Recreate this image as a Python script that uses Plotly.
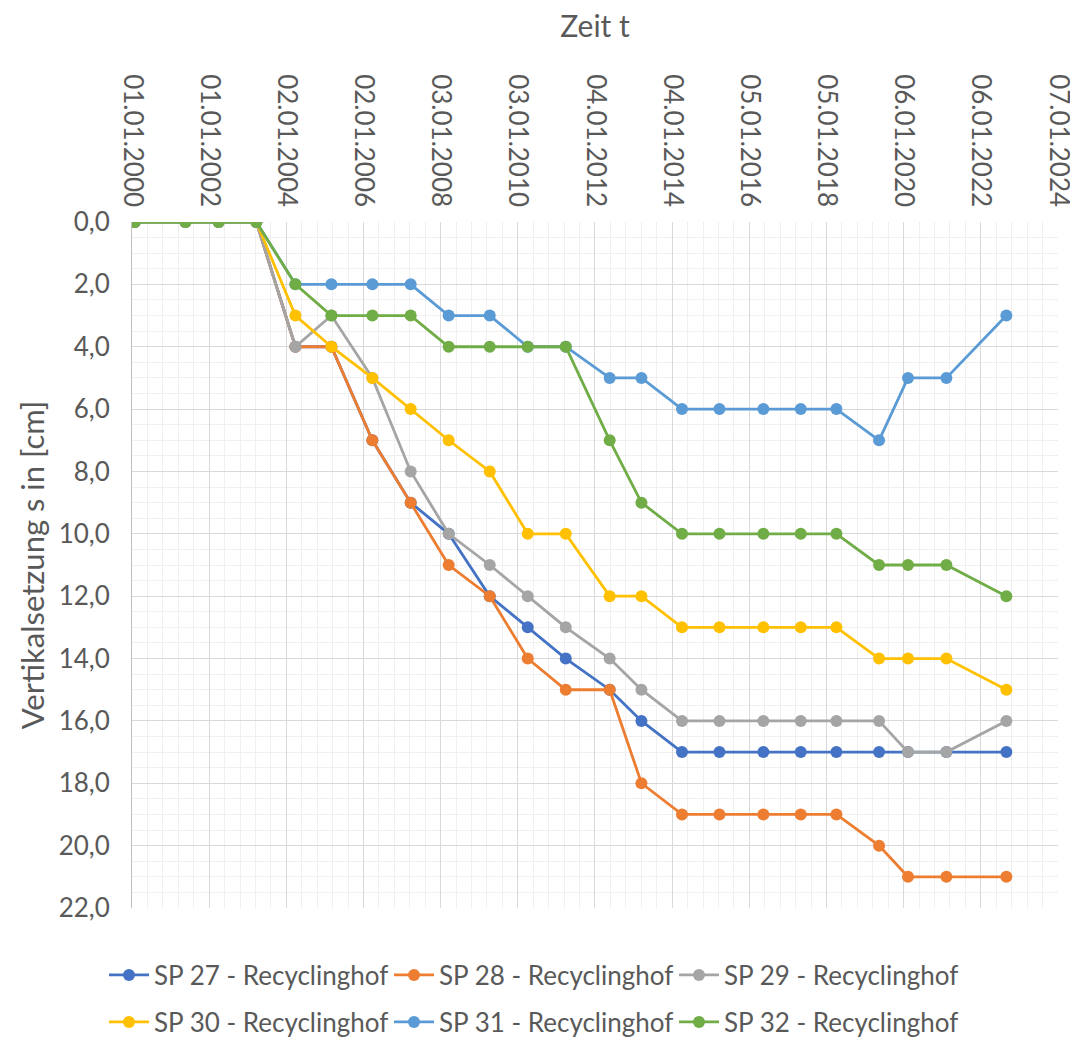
import plotly.graph_objects as go

dates = ["2000-01-27", "2001-05-21", "2002-04-01", "2003-03-24", "2004-03-28",
         "2005-03-04", "2006-03-27", "2007-03-25", "2008-03-19", "2009-04-12",
         "2010-04-07", "2011-04-02", "2012-05-22", "2013-03-19", "2014-04-07",
         "2015-03-28", "2016-05-17", "2017-05-06", "2018-04-09", "2019-05-18",
         "2020-02-16", "2021-02-14", "2022-09-05"]

sp27 = [0, 0, 0, 0, 4, 4, 7, 9, 10, 12, 13, 14, 15, 16, 17, 17, 17, 17, 17, 17, 17, 17, 17]
sp28 = [0, 0, 0, 0, 4, 4, 7, 9, 11, 12, 14, 15, 15, 18, 19, 19, 19, 19, 19, 20, 21, 21, 21]
sp29 = [0, 0, 0, 0, 4, 3, 5, 8, 10, 11, 12, 13, 14, 15, 16, 16, 16, 16, 16, 16, 17, 17, 16]
sp30 = [0, 0, 0, 0, 3, 4, 5, 6, 7, 8, 10, 10, 12, 12, 13, 13, 13, 13, 13, 14, 14, 14, 15]
sp31 = [0, 0, 0, 0, 2, 2, 2, 2, 3, 3, 4, 4, 5, 5, 6, 6, 6, 6, 6, 7, 5, 5, 3]
sp32 = [0, 0, 0, 0, 2, 3, 3, 3, 4, 4, 4, 4, 7, 9, 10, 10, 10, 10, 10, 11, 11, 11, 12]

names = ["SP 27 - Recyclinghof", "SP 28 - Recyclinghof", "SP 29 - Recyclinghof",
         "SP 30 - Recyclinghof", "SP 31 - Recyclinghof", "SP 32 - Recyclinghof"]
series = [sp27, sp28, sp29, sp30, sp31, sp32]
colors = ["#4472C4", "#ED7D31", "#A5A5A5", "#FFC000", "#5B9BD5", "#70AD47"]

DAY_MS = 86400000
major_dt = 731 * DAY_MS
minor_dt = major_dt / 5

fig = go.Figure()
for i, (nm, vals, col) in enumerate(zip(names, series, colors)):
    fig.add_trace(go.Scatter(
        x=dates, y=vals, name=nm, mode="lines+markers",
        line=dict(color=col, width=2.8),
        marker=dict(color=col, size=12),
        legend="legend" if i < 3 else "legend2",
    ))

font_main = "Lato, 'Open Sans', sans-serif"
txt = "#595959"

leg_common = dict(orientation="h", xref="container", yref="container",
                  x=0.0972, xanchor="left", yanchor="middle",
                  entrywidth=230, itemwidth=40,
                  font=dict(size=26, color=txt), bgcolor="rgba(0,0,0,0)")

fig.update_layout(
    width=1070, height=1038,
    margin=dict(l=132, r=12, t=222, b=130),
    plot_bgcolor="white", paper_bgcolor="white",
    separators=",.",
    font=dict(family=font_main, color=txt, size=26),
    legend=dict(y=0.0607, **leg_common),
    legend2=dict(y=0.0154, **leg_common),
)

fig.update_xaxes(
    type="date", side="top", automargin=False,
    range=["2000-01-01", "2024-01-07 03:00"],
    tick0="2000-01-01", dtick=major_dt, tickformat="%d.%m.%Y",
    tickangle=90, ticks="", ticklabelstandoff=10, ticklabeloverflow="allow",
    tickfont=dict(size=26, color=txt),
    showgrid=True, gridcolor="#D9D9D9", gridwidth=1,
    minor=dict(dtick=minor_dt, tick0="2000-01-01", showgrid=True, gridcolor="#F0F0F0", gridwidth=1),
    zeroline=False, showline=False,
    title=dict(text="Zeit t", font=dict(size=30, color=txt), standoff=27),
)

fig.update_yaxes(
    range=[22, 0], tick0=0, dtick=2, tickformat=".1f", automargin=False,
    ticks="", tickfont=dict(size=26, color=txt), ticklabelstandoff=16,
    showgrid=True, gridcolor="#D9D9D9", gridwidth=1,
    minor=dict(dtick=0.5, showgrid=True, gridcolor="#F0F0F0", gridwidth=1),
    zeroline=False, showline=True, linecolor="#BFBFBF", linewidth=1,
    title=dict(text="Vertikalsetzung s in [cm]", font=dict(size=31, color=txt), standoff=4),
)

fig.write_html("out.html", config={"displayModeBar": False},
               post_script="document.body.style.margin='0px';")
